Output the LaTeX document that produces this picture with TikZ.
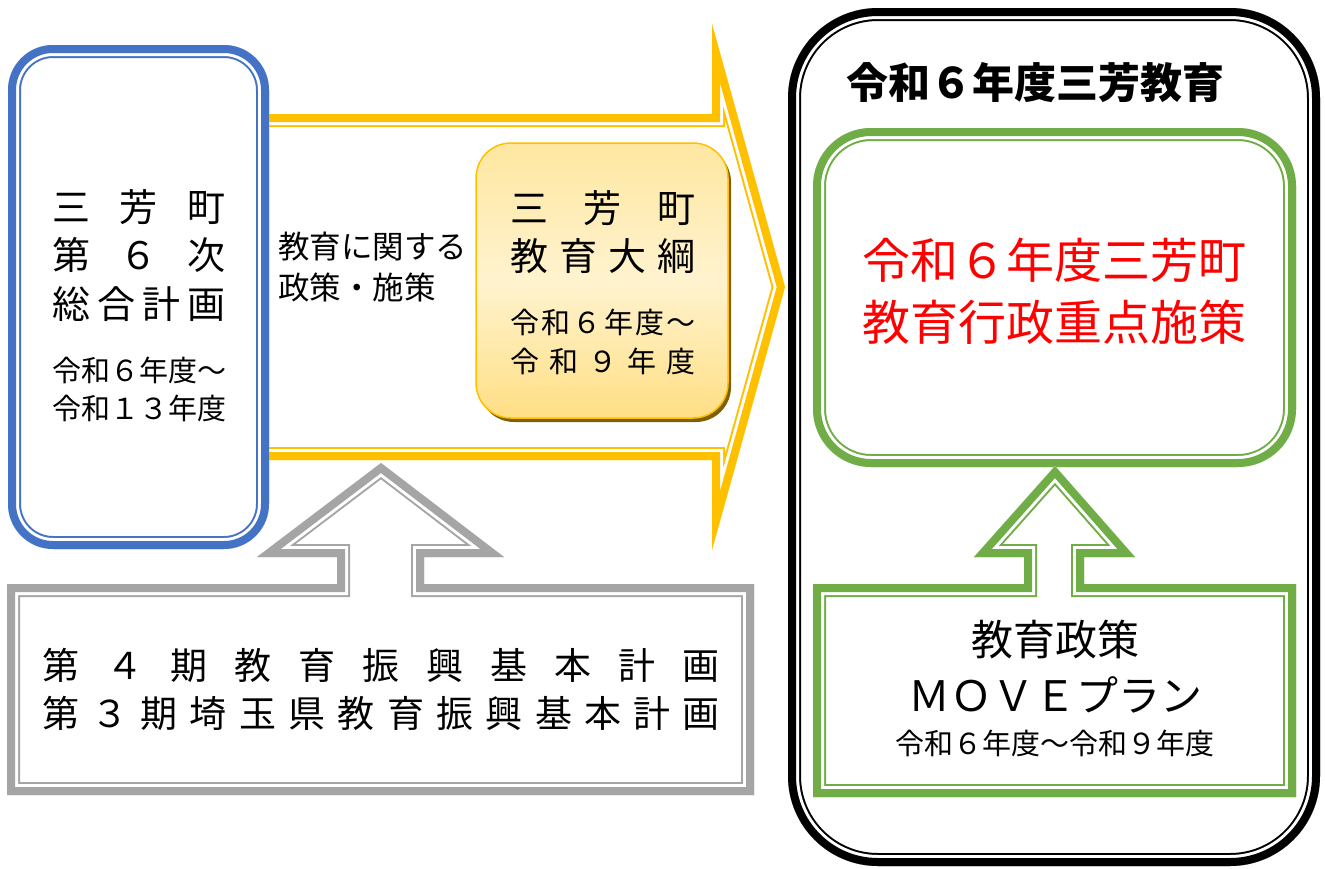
\documentclass[tikz,border=0pt]{standalone}
\usepackage{fontspec}
\setmainfont{Noto Sans CJK JP}
\definecolor{sbBlue}{HTML}{4472C4}
\definecolor{sbYellow}{HTML}{FFC000}
\definecolor{sbGray}{HTML}{A5A5A5}
\definecolor{sbGreen}{HTML}{70AD47}
\definecolor{sbShadow}{HTML}{7F6000}
\definecolor{sbTop}{HTML}{FEE7A0}
\definecolor{sbMid}{HTML}{FFF3CF}
\definecolor{sbBottom}{HTML}{FFDF85}
% 太線・白・細線の三重線
\newcommand\doubleframe[2]{%
  \fill[white] #2;
  \begin{scope}
    \clip #2;
    \draw[#1,line width=26pt] #2;
    \draw[white,line width=22pt] #2;
    \draw[#1,line width=16pt] #2;
  \end{scope}}
\newcommand\spread[2]{\makebox[#1pt][s]{#2}}
\begin{document}
\begin{tikzpicture}[x=1pt,y=-1pt,line join=miter,inner sep=0pt,
  bigtext/.style={font=\fontsize{38pt}{48.25pt}\selectfont,align=center},
  datetext/.style={font=\fontsize{29pt}{38.5pt}\selectfont,align=center}]
  \useasboundingbox (0,0) rectangle (1325,868);
  % 右側の枠
  \doubleframe{black}{[rounded corners=90pt] (788,8) rectangle (1320,866)}
  \doubleframe{sbGreen}{[rounded corners=58pt] (813,128) rectangle (1296,467)}
  \doubleframe{sbGreen}{(813,797) -- (813,584) -- (1024,584) -- (1024,557) -- (974,557) -- (1055,466) -- (1135,557) -- (1084,557) -- (1084,584) -- (1296,584) -- (1296,797) -- cycle}
  % 矢印
  \doubleframe{sbYellow}{(150,114) -- (712,114) -- (712,24) -- (785,287) -- (712,550) -- (712,460) -- (150,460) -- cycle}
  \doubleframe{sbGray}{(7,795) -- (7,584) -- (337,584) -- (337,557) -- (257,557) -- (381,463) -- (504,557) -- (424,557) -- (424,584) -- (754,584) -- (754,795) -- cycle}
  \doubleframe{sbBlue}{[rounded corners=45pt] (8,45) rectangle (269,549)}
  % 教育大綱
  \fill[sbShadow,rounded corners=35pt] (479,147) rectangle (731,422);
  \draw[sbYellow,line width=1.5pt,rounded corners=35pt,top color=sbTop,bottom color=sbBottom,middle color=sbMid] (476,143) rectangle (728,418);

  \node[bigtext] (sougou) at (139,255.5) {\spread{174}{三\hfill 芳\hfill 町}\\\spread{174}{第\hfill ６\hfill 次}\\\spread{174}{総\hfill 合\hfill 計\hfill 画}};
  \node[datetext] (sougouKikan) at (139,389.5) {\spread{174}{令\hfill 和\hfill ６\hfill 年\hfill 度\hfill ～}\\\spread{174}{令\hfill 和\hfill １\hfill ３\hfill 年\hfill 度}};
  \node[font=\fontsize{31.5pt}{41pt}\selectfont,align=left,anchor=west] (seisaku) at (278,267.5) {教育に関する\\政策・施策};
  \node[bigtext] (taikou) at (603,232) {\spread{186}{三\hfill 芳\hfill 町}\\\spread{186}{教\hfill 育\hfill 大\hfill 綱}};
  \node[datetext] (taikouKikan) at (603,342) {\spread{186}{令\hfill 和\hfill ６\hfill 年\hfill 度\hfill ～}\\\spread{186}{令\hfill 和\hfill ９\hfill 年\hfill 度}};
  \node[font=\fontsize{37pt}{48pt}\selectfont,align=center] (shinkou) at (381,689) {\spread{678}{第\hfill ４\hfill 期\hfill 教\hfill 育\hfill 振\hfill 興\hfill 基\hfill 本\hfill 計\hfill 画}\\\spread{678}{第\hfill ３\hfill 期\hfill 埼\hfill 玉\hfill 県\hfill 教\hfill 育\hfill 振\hfill 興\hfill 基\hfill 本\hfill 計\hfill 画}};
  \node[font=\fontsize{42pt}{50pt}\selectfont\bfseries] (nendo) at (1035,83) {令和６年度三芳教育};
  \node[font=\fontsize{48pt}{62pt}\selectfont,align=center,text=red] (juten) at (1054,291) {令和６年度三芳町\\教育行政重点施策};
  \node[font=\fontsize{42pt}{56pt}\selectfont,align=center] (move) at (1055,667) {教育政策\\ＭＯＶＥプラン};
  \node[font=\fontsize{29pt}{35pt}\selectfont] (moveKikan) at (1055,743) {令和６年度～令和９年度};
\end{tikzpicture}
\end{document}
